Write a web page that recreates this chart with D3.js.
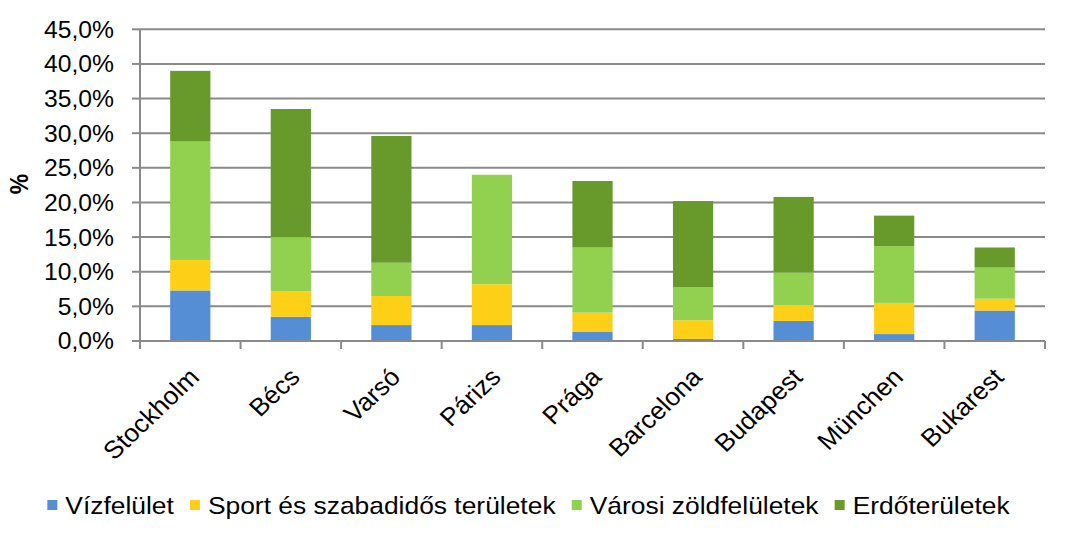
<!DOCTYPE html>
<html>
<head>
<meta charset="utf-8">
<script src="https://cdn.jsdelivr.net/npm/d3@7"></script>
<style>
  html, body { margin: 0; padding: 0; background: #fff; }
  svg { display: block; }
  text { font-family: "Liberation Sans", Arial, sans-serif; fill: #000; }
</style>
</head>
<body>
<svg id="chart" width="1072" height="543"></svg>
<script>
// ---- data ----
const categories = ["Stockholm", "Bécs", "Varsó", "Párizs", "Prága", "Barcelona", "Budapest", "München", "Bukarest"];
const seriesNames = ["Vízfelület", "Sport és szabadidős területek", "Városi zöldfelületek", "Erdőterületek"];
const vizfelulet = [7.3, 3.5, 2.3, 2.3, 1.3, 0.3, 2.9, 1.0, 4.4];
const sport      = [4.4, 3.7, 4.2, 5.9, 2.8, 2.7, 2.3, 4.5, 1.7];
const varosiZold = [17.1, 7.8, 4.8, 15.8, 9.4, 4.75, 4.7, 8.2, 4.5];
const erdo       = [10.2, 18.5, 18.3, 0.0, 9.6, 12.45, 10.9, 4.4, 2.9];
const yTicks = [0, 5, 10, 15, 20, 25, 30, 35, 40, 45];
const colors = ["#558ED5", "#FDD017", "#92D050", "#679A2B"];

// ---- layout ----
const svg = d3.select("#chart");
const mLeft = 140, mRight = 1045, mTop = 29.3, mBottom = 341;

const x = d3.scaleBand().domain(categories).range([mLeft, mRight]).paddingInner(0.6).paddingOuter(0.3);
const xCell = d3.scaleBand().domain(categories).range([mLeft, mRight]).padding(0);
const y = d3.scaleLinear().domain([0, 45]).range([mBottom, mTop]);

const rows = categories.map((c, i) => ({
  cat: c, s0: vizfelulet[i], s1: sport[i], s2: varosiZold[i], s3: erdo[i]
}));
const stack = d3.stack().keys(["s0", "s1", "s2", "s3"])(rows);

// gridlines
svg.append("g").selectAll("line").data(yTicks.filter(t => t > 0)).join("line")
  .attr("x1", mLeft).attr("x2", mRight)
  .attr("y1", d => y(d)).attr("y2", d => y(d))
  .attr("stroke", "#8a8a8a").attr("stroke-width", 2);

// bars
svg.append("g").selectAll("g").data(stack).join("g")
  .attr("fill", (d, i) => colors[i])
  .selectAll("rect").data(d => d).join("rect")
  .attr("x", d => x(d.data.cat))
  .attr("width", x.bandwidth())
  .attr("y", d => y(d[1]))
  .attr("height", d => Math.max(0, y(d[0]) - y(d[1])));

// axes lines
const axisColor = "#8a8a8a";
svg.append("line").attr("x1", mLeft).attr("x2", mRight).attr("y1", mBottom).attr("y2", mBottom)
  .attr("stroke", axisColor).attr("stroke-width", 2);
svg.append("line").attr("x1", mLeft).attr("x2", mLeft).attr("y1", mTop).attr("y2", mBottom + 8)
  .attr("stroke", axisColor).attr("stroke-width", 2);
// y ticks
svg.append("g").selectAll("line").data(yTicks).join("line")
  .attr("x1", mLeft - 8).attr("x2", mLeft)
  .attr("y1", d => y(d)).attr("y2", d => y(d))
  .attr("stroke", axisColor).attr("stroke-width", 2);
// x ticks (category boundaries)
const bounds = categories.map(c => xCell(c)).concat([mRight]);
svg.append("g").selectAll("line").data(bounds).join("line")
  .attr("x1", d => d).attr("x2", d => d)
  .attr("y1", mBottom).attr("y2", mBottom + 8)
  .attr("stroke", axisColor).attr("stroke-width", 2);

// y tick labels
const fmt = v => v.toFixed(1).replace(".", ",") + "%";
svg.append("g").selectAll("text").data(yTicks).join("text")
  .attr("transform", d => `translate(114,${y(d)}) scale(1.05,1)`)
  .attr("text-anchor", "end").attr("dy", "0.36em")
  .attr("font-size", 23.5)
  .text(fmt);

// y title
svg.append("text")
  .attr("transform", `translate(19,184) scale(1.1,1) rotate(-90)`)
  .attr("text-anchor", "middle").attr("dy", "0.36em")
  .attr("font-size", 23).attr("font-weight", "bold")
  .text("%");

// x labels
svg.append("g").selectAll("text").data(categories).join("text")
  .attr("transform", d => `translate(${x(d) + x.bandwidth() / 2 - 3},366) scale(1.05,1) rotate(-45)`)
  .attr("text-anchor", "end").attr("dy", "0.72em")
  .attr("font-size", 25)
  .text(d => d);

// legend
const LSX = 1.1;
const lg = svg.append("g");
const items = lg.selectAll("g").data(seriesNames).join("g");
items.append("rect").attr("width", 10).attr("height", 10).attr("y", 500)
  .attr("fill", (d, i) => colors[i]);
items.append("text").attr("font-size", 24).attr("y", 0)
  .text(d => d);
let cx = 0;
const pos = [];
items.each(function(d, i) {
  const tw = d3.select(this).select("text").node().getComputedTextLength() * LSX;
  pos.push({ sq: cx, tx: cx + 18, tw });
  cx += 18 + tw + 16;
});
const total = cx - 16;
const startX = 528.5 - total / 2;
items.each(function(d, i) {
  const g = d3.select(this);
  g.select("rect").attr("x", startX + pos[i].sq);
  g.select("text").attr("transform", `translate(${startX + pos[i].tx},514) scale(${LSX},1)`);
});
</script>
</body>
</html>
